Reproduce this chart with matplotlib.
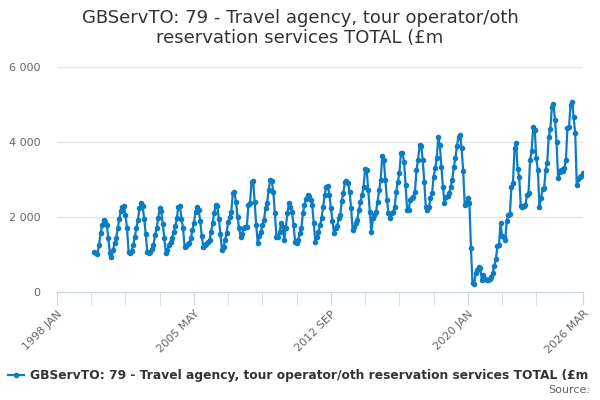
import matplotlib
matplotlib.use("Agg")
import matplotlib.pyplot as plt

# monthly values, £m, Jan 2000 .. Mar 2026
y2000 = [1075, 1040, 1004, 1253, 1564, 1787, 1920, 1876, 1787, 1431, 1031, 942]
y2001 = [1120, 1300, 1431, 1698, 1947, 2150, 2276, 2303, 2054, 1698, 1075, 1031]
y2002 = [1100, 1253, 1476, 1698, 1920, 2231, 2365, 2300, 1950, 1550, 1075, 1040]
y2003 = [1070, 1150, 1253, 1520, 1698, 1964, 2231, 2150, 1804, 1431, 1031, 1120]
y2004 = [1253, 1330, 1431, 1587, 1760, 1964, 2276, 2293, 1960, 1698, 1200, 1240]
y2005 = [1290, 1320, 1431, 1650, 1850, 2142, 2258, 2187, 1900, 1500, 1200, 1250]
y2006 = [1290, 1340, 1387, 1600, 1831, 2098, 2320, 2290, 1960, 1560, 1116, 1204]
y2007 = [1387, 1564, 1876, 2000, 2142, 2631, 2658, 2409, 2009, 1700, 1476, 1560]
y2008 = [1698, 1742, 1742, 2320, 2364, 2942, 2969, 2409, 1787, 1298, 1500, 1609]
y2009 = [1787, 1920, 2231, 2364, 2720, 2987, 2950, 2676, 2098, 1476, 1476, 1609]
y2010 = [1831, 1742, 1387, 1698, 2098, 2364, 2276, 2142, 1787, 1342, 1298, 1387]
y2011 = [1564, 1698, 2098, 2320, 2480, 2587, 2560, 2453, 2320, 1831, 1342, 1476]
y2012 = [1609, 1787, 1964, 2276, 2587, 2809, 2831, 2600, 2231, 1900, 1582, 1700]
y2013 = [1760, 1964, 2054, 2436, 2631, 2942, 2969, 2898, 2676, 2231, 1653, 1742]
y2014 = [1831, 1920, 2187, 2400, 2587, 2809, 3271, 3253, 2720, 2142, 1609, 1964]
y2015 = [2054, 2142, 2409, 2720, 2987, 3627, 3520, 2987, 2453, 2098, 1965, 2098]
y2016 = [2142, 2276, 2676, 2942, 3164, 3698, 3698, 3476, 2853, 2187, 2200, 2453]
y2017 = [2498, 2542, 2676, 3253, 3520, 3920, 3894, 3520, 2942, 2254, 2200, 2254]
y2018 = [2498, 2631, 3076, 3300, 3564, 4125, 3920, 3342, 2809, 2364, 2524, 2560]
y2019 = [2631, 2809, 3000, 3342, 3564, 3900, 4142, 4187, 3831, 3227, 2320, 2382]
y2020 = [2498, 2382, 1165, 231, 213, 498, 580, 658, 631, 320, 453, 338]
y2021 = [320, 330, 338, 409, 516, 700, 871, 1227, 1253, 1849, 1493, 1476]
y2022 = [1387, 1893, 2053, 2080, 2791, 2898, 3831, 3964, 3271, 3076, 2300, 2276]
y2023 = [2293, 2320, 2587, 2649, 3520, 3769, 4409, 4320, 3564, 3253, 2276, 2498]
y2024 = [2738, 2765, 3253, 3449, 4142, 4338, 4925, 5014, 4587, 4009, 3031, 3209]
y2025 = [3253, 3227, 3300, 3520, 4365, 4392, 4987, 5076, 4658, 4231, 2853, 3005]
y2026 = [3058, 3093, 3182]

values = (y2000 + y2001 + y2002 + y2003 + y2004 + y2005 + y2006 + y2007 + y2008
          + y2009 + y2010 + y2011 + y2012 + y2013 + y2014 + y2015 + y2016 + y2017
          + y2018 + y2019 + y2020 + y2021 + y2022 + y2023 + y2024 + y2025 + y2026)

# x in months since 1998 JAN
months = list(range(24, 24 + len(values)))

tick_pos = [0, 88, 176, 264, 338]
tick_labels = ["1998 JAN", "2005 MAY", "2012 SEP", "2020 JAN", "2026 MAR"]
minor_pos = [m for m in range(0, 309, 22) if m not in tick_pos]

yticks = [0, 2000, 4000, 6000]
ylabels = ["0", "2 000", "4 000", "6 000"]

title = "GBServTO: 79 - Travel agency, tour operator/oth\nreservation services TOTAL (£m"
legend_text = "GBServTO: 79 - Travel agency, tour operator/oth reservation services TOTAL (£m"

blue = "#0c7cc3"
gray = "#666666"
axis_col = "#ccd6eb"

fig = plt.figure(figsize=(6, 4), dpi=100)
ax = fig.add_axes([57 / 600, 1 - 292 / 400, 526 / 600, 225 / 400])

ax.plot(months, values, color=blue, lw=1.6, marker="o", ms=3, zorder=3)

ax.set_xlim(0, 338)
ax.set_ylim(0, 6000)
ax.set_yticks(yticks)
ax.set_yticklabels(ylabels)
ax.set_xticks(tick_pos)
ax.set_xticklabels(tick_labels, rotation=45, ha="right", va="top", rotation_mode="anchor")
ax.set_xticks(minor_pos, minor=True)

ax.grid(axis="y", color="#e6e6e6", lw=1)
ax.set_axisbelow(True)
for s in ["top", "right", "left"]:
    ax.spines[s].set_visible(False)
ax.spines["bottom"].set_color(axis_col)
ax.tick_params(axis="y", length=0, pad=12, labelsize=8, labelcolor=gray)
ax.tick_params(axis="x", which="both", length=9, color=axis_col, labelsize=8, labelcolor=gray, pad=3)

fig.text(0.5, 1 - 28 / 400, title, ha="center", va="center", fontsize=13, color="#333333",
         linespacing=1.2)

fig.add_artist(plt.Line2D([8 / 600, 24 / 600], [1 - 375 / 400] * 2, color=blue, lw=1.6))
fig.add_artist(plt.Line2D([16 / 600], [1 - 375 / 400], color=blue, marker="o", ms=3))
fig.text(30 / 600, 1 - 375 / 400, legend_text, ha="left", va="center", fontsize=8.8,
         fontweight="bold", color="#333333")
fig.text(590 / 600, 1 - 390 / 400, "Source:", ha="right", va="center", fontsize=8, color=gray)

fig.savefig("out.png", dpi=100)
